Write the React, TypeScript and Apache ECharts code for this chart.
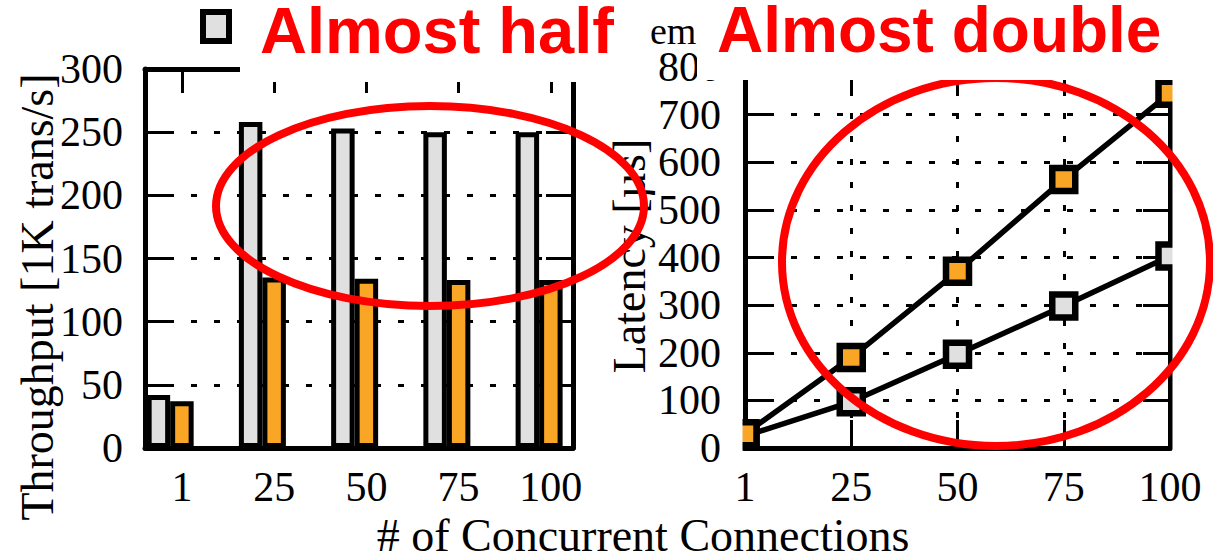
import React, { useEffect, useRef } from "react";
import * as echarts from "echarts";

// ---- data ----
const categories = ["1", "25", "50", "75", "100"];
const throughputBaseline = [42, 258, 253, 250, 250];
const throughputSystem = [37, 135, 134, 133, 133];
const latencyBaseline = [25, 97, 197, 298, 403];
const latencySystem = [30, 190, 371, 564, 745];
const throughputAxis = { min: 0, max: 300, interval: 50 };
const latencyAxis = { min: 0, max: 800, interval: 100 };

const GRAY = "#e0e0e0";
const ORANGE = "#f9a526";
const RED = "#ff0000";
const SERIF = '"Liberation Serif", "Times New Roman", serif';
const SANS = '"Liberation Sans", Arial, sans-serif';

const catIdx = categories.map((_, i) => i);

const axisLineStyle = { color: "#000", width: 5 };
const tickStyle = { color: "#000", width: 3 };
const dotted = { color: "#000", width: 3, type: [6, 17] as any };
const labelFont = { fontSize: 42, fontFamily: SERIF, color: "#000" };

function buildOption(): any {
  return {
    animation: false,
    grid: [
      { left: 145, top: 69, width: 428, height: 379 },
      { left: 745, top: 67, width: 425, height: 381 },
    ],
    xAxis: [
      {
        gridIndex: 0,
        type: "value",
        min: -0.4,
        max: 4.24,
        position: "bottom",
        axisLine: { show: true, onZero: false, lineStyle: axisLineStyle },
        axisTick: { show: true, inside: true, length: 26, lineStyle: tickStyle, customValues: catIdx },
        axisLabel: {
          show: true,
          customValues: catIdx,
          formatter: (v: number) => categories[Math.round(v)] ?? "",
          margin: 18,
          ...labelFont,
        },
        splitLine: { show: false },
      },
      {
        gridIndex: 0,
        type: "value",
        min: -0.4,
        max: 4.24,
        position: "top",
        axisLine: { show: true, onZero: false, lineStyle: axisLineStyle },
        axisTick: { show: true, inside: true, length: 24, lineStyle: tickStyle, customValues: catIdx },
        axisLabel: { show: false },
        splitLine: { show: false },
      },
      {
        gridIndex: 1,
        type: "category",
        data: categories,
        boundaryGap: false,
        position: "bottom",
        axisLine: { show: true, onZero: false, lineStyle: axisLineStyle },
        axisTick: { show: true, inside: true, length: 28, interval: 0, lineStyle: tickStyle },
        axisLabel: { show: true, interval: 0, margin: 18, ...labelFont },
        splitLine: { show: true, interval: 0, lineStyle: dotted },
      },
      {
        gridIndex: 1,
        type: "category",
        data: categories,
        boundaryGap: false,
        position: "top",
        axisLine: { show: true, onZero: false, lineStyle: axisLineStyle },
        axisTick: { show: true, inside: true, length: 26, interval: 0, lineStyle: tickStyle },
        axisLabel: { show: false },
        splitLine: { show: false },
      },
    ],
    yAxis: [
      {
        gridIndex: 0,
        type: "value",
        ...throughputAxis,
        position: "left",
        axisLine: { show: true, onZero: false, lineStyle: axisLineStyle },
        axisTick: { show: true, inside: true, length: 27, lineStyle: tickStyle },
        axisLabel: { show: true, margin: 22, ...labelFont },
        splitLine: { show: true, lineStyle: dotted },
      },
      {
        gridIndex: 0,
        type: "value",
        ...throughputAxis,
        position: "right",
        axisLine: { show: true, onZero: false, lineStyle: axisLineStyle },
        axisTick: { show: true, inside: true, length: 27, lineStyle: tickStyle },
        axisLabel: { show: false },
        splitLine: { show: false },
      },
      {
        gridIndex: 1,
        type: "value",
        ...latencyAxis,
        position: "left",
        axisLine: { show: true, onZero: false, lineStyle: axisLineStyle },
        axisTick: { show: true, inside: true, length: 27, lineStyle: tickStyle },
        axisLabel: { show: true, margin: 24, ...labelFont },
        splitLine: { show: true, lineStyle: dotted },
      },
      {
        gridIndex: 1,
        type: "value",
        ...latencyAxis,
        position: "right",
        axisLine: { show: true, onZero: false, lineStyle: axisLineStyle },
        axisTick: { show: true, inside: true, length: 27, lineStyle: tickStyle },
        axisLabel: { show: false },
        splitLine: { show: false },
      },
    ],
    series: [
      {
        type: "bar",
        name: "Baseline",
        xAxisIndex: 0,
        yAxisIndex: 0,
        data: throughputBaseline.map((v, i) => [i, v]),
        barWidth: 23.5,
        barGap: "0%",
        itemStyle: { color: GRAY, borderColor: "#000", borderWidth: 5 },
        emphasis: { disabled: true },
      },
      {
        type: "bar",
        name: "System",
        xAxisIndex: 0,
        yAxisIndex: 0,
        data: throughputSystem.map((v, i) => [i, v]),
        barWidth: 23.5,
        barGap: "0%",
        itemStyle: { color: ORANGE, borderColor: "#000", borderWidth: 5 },
        emphasis: { disabled: true },
      },
      {
        type: "bar",
        name: "unused slot",
        xAxisIndex: 0,
        yAxisIndex: 0,
        data: [],
        barWidth: 23.5,
        barGap: "0%",
      },
      {
        type: "line",
        name: "Baseline",
        xAxisIndex: 2,
        yAxisIndex: 2,
        data: latencyBaseline,
        symbol: "rect",
        symbolSize: 23,
        lineStyle: { color: "#000", width: 5.5 },
        itemStyle: { color: GRAY, borderColor: "#000", borderWidth: 6.5 },
        emphasis: { disabled: true },
        clip: false,
      },
      {
        type: "line",
        name: "System",
        xAxisIndex: 2,
        yAxisIndex: 2,
        data: latencySystem,
        symbol: "rect",
        symbolSize: 23,
        lineStyle: { color: "#000", width: 5.5 },
        itemStyle: { color: ORANGE, borderColor: "#000", borderWidth: 6.5 },
        emphasis: { disabled: true },
        clip: false,
      },
    ],
    graphic: [
      // clip markers outside the right plot area
      { type: "rect", z: 50, shape: { x: 722, y: 60, width: 20.5, height: 400 }, style: { fill: "#fff" } },
      { type: "rect", z: 50, shape: { x: 1172.5, y: 60, width: 40.5, height: 400 }, style: { fill: "#fff" } },
      // axis titles
      {
        type: "text",
        z: 51,
        x: 37,
        y: 297,
        rotation: Math.PI / 2,
        style: { text: "Throughput [1K trans/s]", font: `46px ${SERIF}`, fill: "#000", align: "center", verticalAlign: "middle" },
      },
      {
        type: "text",
        z: 51,
        x: 629,
        y: 256,
        rotation: Math.PI / 2,
        style: { text: "Latency [µs]", font: `46px ${SERIF}`, fill: "#000", align: "center", verticalAlign: "middle" },
      },
      {
        type: "text",
        z: 51,
        x: 643,
        y: 535,
        style: {
          text: "# of Concurrent Connections",
          font: `46px ${SERIF}`,
          lineHeight: 40,
          fill: "#000",
          align: "center",
          verticalAlign: "middle",
        },
      },
      // red annotation ellipses
      { type: "ellipse", z: 60, shape: { cx: 430, cy: 206, rx: 214, ry: 100 }, style: { fill: "none", stroke: RED, lineWidth: 8 } },
      { type: "ellipse", z: 60, shape: { cx: 996, cy: 262, rx: 214, ry: 184 }, style: { fill: "none", stroke: RED, lineWidth: 8 } },
      // white boxes behind annotation text
      { type: "rect", z: 70, shape: { x: 240, y: 0, width: 395, height: 82 }, style: { fill: "#fff" } },
      { type: "rect", z: 70, shape: { x: 697, y: 0, width: 516, height: 80 }, style: { fill: "#fff" } },
      // legend remnants
      { type: "rect", z: 71, shape: { x: 203, y: 12, width: 26, height: 29 }, style: { fill: GRAY, stroke: "#000", lineWidth: 6 } },
      {
        type: "text",
        z: 71,
        x: 650,
        y: 31,
        style: { text: "em", font: `38px ${SERIF}`, lineHeight: 30, fill: "#000", align: "left", verticalAlign: "middle" },
      },
      // annotation texts
      {
        type: "text",
        z: 72,
        x: 260,
        y: 1,
        style: { text: "Almost half", font: `bold 65px ${SANS}`, lineHeight: 58, fill: RED, align: "left", verticalAlign: "top" },
      },
      {
        type: "text",
        z: 72,
        x: 717,
        y: 1,
        style: { text: "Almost double", font: `bold 64px ${SANS}`, lineHeight: 58, fill: RED, align: "left", verticalAlign: "top" },
      },
    ],
  };
}

export default function App() {
  const ref = useRef<HTMLDivElement>(null);
  useEffect(() => {
    document.body.style.margin = "0";
    if (!ref.current) return;
    const chart = echarts.init(ref.current, undefined, { renderer: "svg" });
    chart.setOption(buildOption());
    return () => chart.dispose();
  }, []);
  return <div ref={ref} style={{ width: 1213, height: 556, background: "#fff" }} />;
}
